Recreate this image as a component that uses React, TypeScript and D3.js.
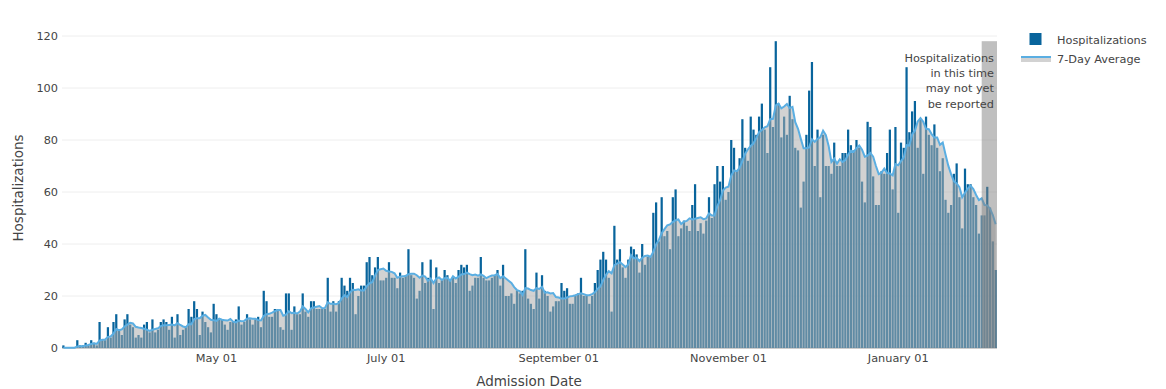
import React from "react";
import * as d3 from "d3";

// daily admissions, one value per day starting at firstDay
const firstDay = "2020-03-07";
const hospitalizations = [
  1, 0, 0, 0, 0, 3, 1, 1, 2, 1, 3, 2, 1, 10, 3, 3, 8, 4, 10, 13,
  7, 5, 11, 13, 9, 8, 4, 5, 4, 9, 10, 6, 11, 6, 7, 10, 11, 10, 7, 12,
  4, 13, 5, 7, 8, 15, 12, 18, 15, 5, 14, 10, 8, 6, 17, 13, 11, 11, 9, 7,
  10, 10, 11, 16, 9, 10, 13, 11, 9, 11, 12, 8, 22, 18, 12, 12, 15, 15, 8, 7,
  21, 21, 7, 16, 13, 13, 21, 14, 12, 18, 18, 15, 15, 15, 15, 27, 14, 18, 14, 18,
  27, 24, 22, 27, 25, 13, 20, 24, 24, 33, 35, 28, 31, 35, 26, 26, 27, 33, 27, 27,
  23, 29, 27, 28, 38, 28, 27, 19, 22, 33, 25, 27, 34, 15, 31, 25, 26, 30, 28, 26,
  27, 25, 30, 32, 31, 32, 22, 24, 27, 27, 35, 27, 26, 26, 27, 28, 30, 24, 32, 20,
  20, 21, 17, 22, 21, 22, 38, 19, 17, 15, 29, 19, 28, 22, 20, 14, 16, 18, 18, 25,
  22, 23, 17, 17, 20, 21, 27, 20, 20, 17, 20, 25, 30, 34, 37, 34, 27, 14, 47, 34,
  38, 31, 27, 34, 39, 38, 36, 29, 40, 32, 35, 35, 52, 56, 41, 58, 43, 45, 38, 58,
  61, 43, 46, 49, 47, 45, 55, 63, 45, 48, 44, 49, 58, 50, 63, 70, 64, 70, 57, 60,
  80, 77, 68, 73, 88, 77, 72, 89, 84, 82, 89, 94, 84, 75, 108, 85, 118, 94, 81, 89,
  82, 97, 88, 77, 76, 54, 64, 82, 99, 110, 70, 84, 58, 82, 70, 70, 67, 79, 70, 70,
  75, 75, 84, 78, 76, 80, 77, 64, 56, 87, 85, 66, 55, 55, 68, 67, 75, 84, 61, 85,
  52, 79, 77, 108, 83, 91, 95, 77, 88, 67, 89, 82, 78, 86, 77, 68, 73, 57, 52, 55,
  67, 71, 58, 46, 69, 63, 63, 58, 55, 44, 51, 51, 62, 54, 41, 30,
];

const yTicks = [0, 20, 40, 60, 80, 100, 120];
const xTickDates = ["2020-05-01", "2020-07-01", "2020-09-01", "2020-11-01", "2021-01-01"];
const xTickLabels = ["May 01", "July 01", "September 01", "November 01", "January 01"];
const pendingDays = 6;
const noteLines = ["Hospitalizations", "in this time", "may not yet", "be reported"];
const legendLabels = ["Hospitalizations", "7-Day Average"];

const W = 1166;
const H = 389;
const BAR = "#08649c";
const AVG = "#5aaee2";
const FONT = "'DejaVu Sans', Verdana, sans-serif";
const TXT = "#444";

export default function App() {
  const start = d3.utcParse("%Y-%m-%d")(firstDay)!;
  const rows = hospitalizations.map((v, i) => {
    const win = hospitalizations.slice(Math.max(0, i - 6), i + 1);
    return { date: d3.utcDay.offset(start, i), value: v, avg: d3.sum(win) / 7 };
  });
  const last = rows[rows.length - 1].date;

  const x = d3
    .scaleUtc()
    .domain([d3.utcHour.offset(start, -12), d3.utcHour.offset(last, 12)])
    .range([62, 997]);
  const y = d3.scaleLinear().domain([0, 120]).range([348, 36]);
  const dayW = x(d3.utcDay.offset(start, 1)) - x(start);
  const bw = dayW * 0.8;

  const area = d3
    .area<any>()
    .x((d) => x(d.date))
    .y0(y(0))
    .y1((d) => y(d.avg));
  const line = d3
    .line<any>()
    .x((d) => x(d.date))
    .y((d) => y(d.avg));

  const [x0, x1] = x.range();
  const pendStart = x(rows[rows.length - pendingDays].date);
  const pendTop = y(d3.max(hospitalizations)!);

  return (
    <div style={{ position: "absolute", left: 0, top: 0 }}>
      <svg width={W} height={H} style={{ display: "block", fontFamily: FONT }}>
        <rect width={W} height={H} fill="#fff" />
        {yTicks.slice(1).map((t) => (
          <line key={t} x1={x0} x2={x1} y1={y(t)} y2={y(t)} stroke="#eee" strokeWidth={1} />
        ))}
        <line x1={x0} x2={x1} y1={y(0)} y2={y(0)} stroke="#999" strokeWidth={1} />
        <g fill={BAR}>
          {rows.map((d, i) => (
            <rect key={i} x={x(d.date) - bw / 2} width={bw} y={y(d.value)} height={y(0) - y(d.value)} />
          ))}
        </g>
        <path d={area(rows)!} fill="rgb(172,172,172)" fillOpacity={0.54} />
        <path d={line(rows)!} fill="none" stroke={AVG} strokeWidth={2} />
        <rect x={pendStart} width={x1 - pendStart} y={pendTop} height={y(0) - pendTop} fill="gray" opacity={0.5} />
        <g fontSize={11.3} fill={TXT} textAnchor="end">
          {noteLines.map((s, i) => (
            <text key={i} x={994} y={62 + i * 15.2}>{s}</text>
          ))}
        </g>
        <g fontSize={11.3} fill={TXT} textAnchor="end">
          {yTicks.map((t) => (
            <text key={t} x={58} y={y(t) + 4}>{t}</text>
          ))}
        </g>
        <g fontSize={11.3} fill={TXT} textAnchor="middle">
          {xTickDates.map((s, i) => (
            <text key={s} x={x(d3.utcParse("%Y-%m-%d")(s)!)} y={362}>{xTickLabels[i]}</text>
          ))}
        </g>
        <text x={529} y={386} fontSize={13.5} fill={TXT} textAnchor="middle">Admission Date</text>
        <text transform="translate(22.5,188) rotate(-90)" fontSize={13.5} fill={TXT} textAnchor="middle">
          Hospitalizations
        </text>
        <g fontSize={11.3} fill={TXT}>
          <rect x={1029.5} y={33} width={12} height={12} fill={BAR} />
          <text x={1057} y={44}>{legendLabels[0]}</text>
          <rect x={1021} y={57} width={30} height={5} fill="rgb(172,172,172)" fillOpacity={0.54} />
          <line x1={1021} x2={1051} y1={57} y2={57} stroke={AVG} strokeWidth={2} />
          <text x={1057} y={63}>{legendLabels[1]}</text>
        </g>
      </svg>
    </div>
  );
}
